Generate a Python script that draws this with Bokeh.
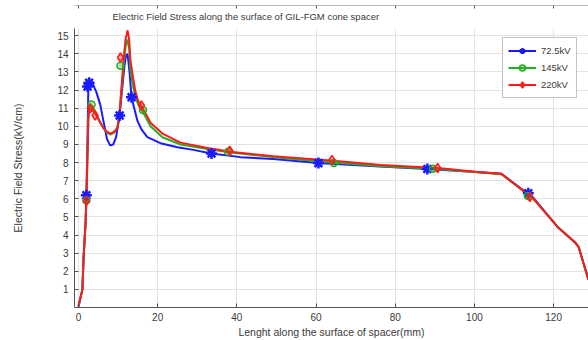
from bokeh.plotting import figure
from bokeh.models import (Range1d, LinearAxis, Legend, LegendItem, FixedTicker,
                          CustomJSTickFormatter, Title)
from bokeh.embed import file_html
from bokeh.resources import INLINE

# ---- data ----
x_blue = [0, 1.0, 1.3, 1.8, 2.0, 2.3, 2.5, 2.9, 3.5, 4.5, 5.5, 6.3, 7.2, 8.0, 8.8, 9.5,
          10.4, 11.0, 11.6, 12.0, 12.4, 12.9, 13.4, 14.2, 14.9, 16.0, 17.4, 20.7, 25.0,
          29.0, 33.6, 40.9, 49.2, 60.6, 75.0, 88.1, 101.5, 106.8, 114.9, 121.0, 125.5,
          126.3, 127.5, 128.8]
y_blue = [0.05, 1.0, 2.8, 4.7, 6.2, 9.5, 12.25, 12.45, 12.4, 11.9, 11.2, 10.3, 9.3, 8.95,
          9.0, 9.4, 10.6, 12.0, 13.3, 13.9, 14.0, 13.0, 11.6, 10.9, 10.3, 9.8, 9.4, 9.07,
          8.85, 8.7, 8.5, 8.3, 8.2, 7.97, 7.8, 7.64, 7.47, 7.38, 6.05, 4.45, 3.57, 3.35,
          2.47, 1.54]
mx_blue = [2.0, 2.3, 2.7, 10.4, 13.4, 33.6, 60.6, 88.1, 113.6]
my_blue = [6.2, 12.2, 12.4, 10.6, 11.6, 8.5, 7.97, 7.64, 6.3]

x_green = [0, 1.0, 1.3, 1.8, 2.0, 2.3, 2.5, 2.8, 3.5, 4.3, 5.3, 6.3, 7.2, 8.1, 9.0, 9.8,
           10.3, 10.6, 11.0, 11.4, 11.9, 12.3, 12.8, 13.1, 13.7, 14.4, 15.1, 16.0, 17.0,
           18.2, 21.2, 25.8, 32.6, 38.4, 49.2, 64.4, 76.3, 90.7, 101.5, 106.8, 114.9,
           121.0, 125.5, 126.3, 127.5, 128.8]
y_green = [0.05, 1.0, 2.8, 4.7, 5.9, 8.6, 10.6, 11.15, 11.1, 10.8, 10.3, 9.9, 9.65, 9.55,
           9.65, 9.9, 10.5, 11.3, 12.3, 13.4, 14.4, 14.8, 14.3, 13.2, 12.3, 11.6, 11.2,
           10.9, 10.5, 10.0, 9.4, 9.0, 8.75, 8.55, 8.3, 8.0, 7.8, 7.65, 7.45, 7.36, 6.0,
           4.45, 3.57, 3.35, 2.47, 1.54]
mx_green = [2.0, 3.3, 10.6, 16.3, 37.8, 64.5, 89.5, 113.5]
my_green = [5.9, 11.2, 13.35, 10.9, 8.6, 7.97, 7.66, 6.15]

x_red = [0, 1.0, 1.3, 1.8, 2.0, 2.3, 2.5, 2.8, 3.5, 4.3, 5.3, 6.3, 7.2, 8.1, 9.0, 9.8,
         10.3, 10.6, 11.0, 11.4, 11.9, 12.4, 12.8, 13.1, 13.7, 14.4, 15.1, 15.9, 17.0,
         18.2, 21.2, 25.8, 32.6, 38.4, 49.2, 64.4, 76.3, 90.7, 101.5, 106.8, 114.9,
         121.0, 125.5, 126.3, 127.5, 128.8]
y_red = [0.05, 1.0, 2.8, 4.7, 5.9, 8.5, 10.4, 11.0, 10.9, 10.7, 10.3, 9.9, 9.7, 9.6, 9.7,
         9.9, 10.5, 11.4, 12.5, 13.7, 14.8, 15.3, 14.8, 13.7, 12.8, 11.9, 11.4, 11.1, 10.7,
         10.2, 9.6, 9.1, 8.8, 8.6, 8.35, 8.1, 7.86, 7.7, 7.47, 7.38, 6.0, 4.45, 3.57, 3.35,
         2.47, 1.54]
mx_red = [2.0, 3.0, 4.2, 10.6, 15.9, 38.2, 64.0, 90.7, 114.0]
my_red = [5.9, 11.0, 10.6, 13.8, 11.15, 8.65, 8.15, 7.7, 6.1]

labels = ["72.5kV", "145kV", "220kV"]
x_ticks = [0, 20, 40, 60, 80, 100, 120]
y_ticks = list(range(1, 16))

title_text = "Electric Field Stress along the surface of GIL-FGM cone spacer"
x_label = "Lenght along the surface of spacer(mm)"
y_label = "Electric Field Stress(kV/cm)"

FONT = "Liberation Sans"
TXT = "#3a3a3a"

p = figure(width=588, height=340, output_backend="svg", toolbar_location=None,
           x_range=Range1d(-1.0, 128.8), y_range=Range1d(0, 15.4),
           min_border_left=74, min_border_right=0, min_border_top=28,
           min_border_bottom=33, x_axis_label=x_label, y_axis_label=y_label)
p.outline_line_color = None
p.background_fill_color = "white"
p.border_fill_color = "white"

t = Title(text=title_text, align="left", offset=38, vertical_align="top",
          text_font=FONT, text_font_size="9.5px", text_font_style="normal",
          text_color=TXT)
p.add_layout(t, "above")

for ax in (p.xaxis[0], p.yaxis[0]):
    ax.major_tick_in = 4
    ax.major_tick_out = 0
    ax.minor_tick_line_color = None
    ax.axis_line_color = "#555555"
    ax.major_tick_line_color = "#555555"
    ax.major_label_text_font = FONT
    ax.major_label_text_font_size = "10px"
    ax.major_label_text_color = TXT
    ax.axis_label_text_font = FONT
    ax.axis_label_text_font_size = "10.5px"
    ax.axis_label_text_font_style = "normal"
    ax.axis_label_text_color = TXT

p.xaxis.ticker = FixedTicker(ticks=x_ticks)
p.yaxis.ticker = FixedTicker(ticks=y_ticks)
p.xaxis.major_label_standoff = 5
p.xaxis.axis_label_standoff = 2
p.yaxis.major_label_standoff = 6
p.yaxis.axis_label_standoff = 30

top = LinearAxis(ticker=FixedTicker(ticks=x_ticks),
                 formatter=CustomJSTickFormatter(code="return ''"),
                 major_tick_in=3, major_tick_out=0, minor_tick_line_color=None,
                 axis_line_color="#bbbbbb", major_tick_line_color="#555555",
                 major_label_text_font_size="1px", major_label_standoff=0)
p.add_layout(top, "above")

p.xgrid.ticker = FixedTicker(ticks=x_ticks)
p.ygrid.ticker = FixedTicker(ticks=y_ticks)
p.grid.grid_line_color = "#e3e3e3"
p.grid.grid_line_width = 1

cb, cg, cr = "#1a1aff", "#22b022", "#ff1a1a"

lb = p.line(x_blue, y_blue, line_color=cb, line_width=2)
lg = p.line(x_green, y_green, line_color=cg, line_width=2)
lr = p.line(x_red, y_red, line_color=cr, line_width=2)

sb = p.scatter(mx_blue, my_blue, marker="asterisk", size=11, line_color=cb, line_width=2.5)
sg = p.scatter(mx_green, my_green, marker="circle", size=7, line_color=cg, line_width=1.5,
               fill_color=cg, fill_alpha=0.35)
sr = p.scatter(mx_red, my_red, marker="diamond", size=9, line_color=cr, line_width=1.5,
               fill_color=cr, fill_alpha=0.35)

legend = Legend(items=[LegendItem(label=labels[0], renderers=[lb, sb]),
                       LegendItem(label=labels[1], renderers=[lg, sg]),
                       LegendItem(label=labels[2], renderers=[lr, sr])],
                location=(428, 209))
legend.label_text_font = FONT
legend.label_text_font_size = "9.5px"
legend.label_text_color = TXT
legend.glyph_width = 28
legend.glyph_height = 15
legend.spacing = 2
legend.padding = 5
legend.margin = 0
legend.label_standoff = 5
legend.border_line_color = "#888888"
legend.border_line_width = 1.5
legend.background_fill_alpha = 1
p.add_layout(legend, "center")

open("out.html", "w").write(file_html(p, INLINE))
